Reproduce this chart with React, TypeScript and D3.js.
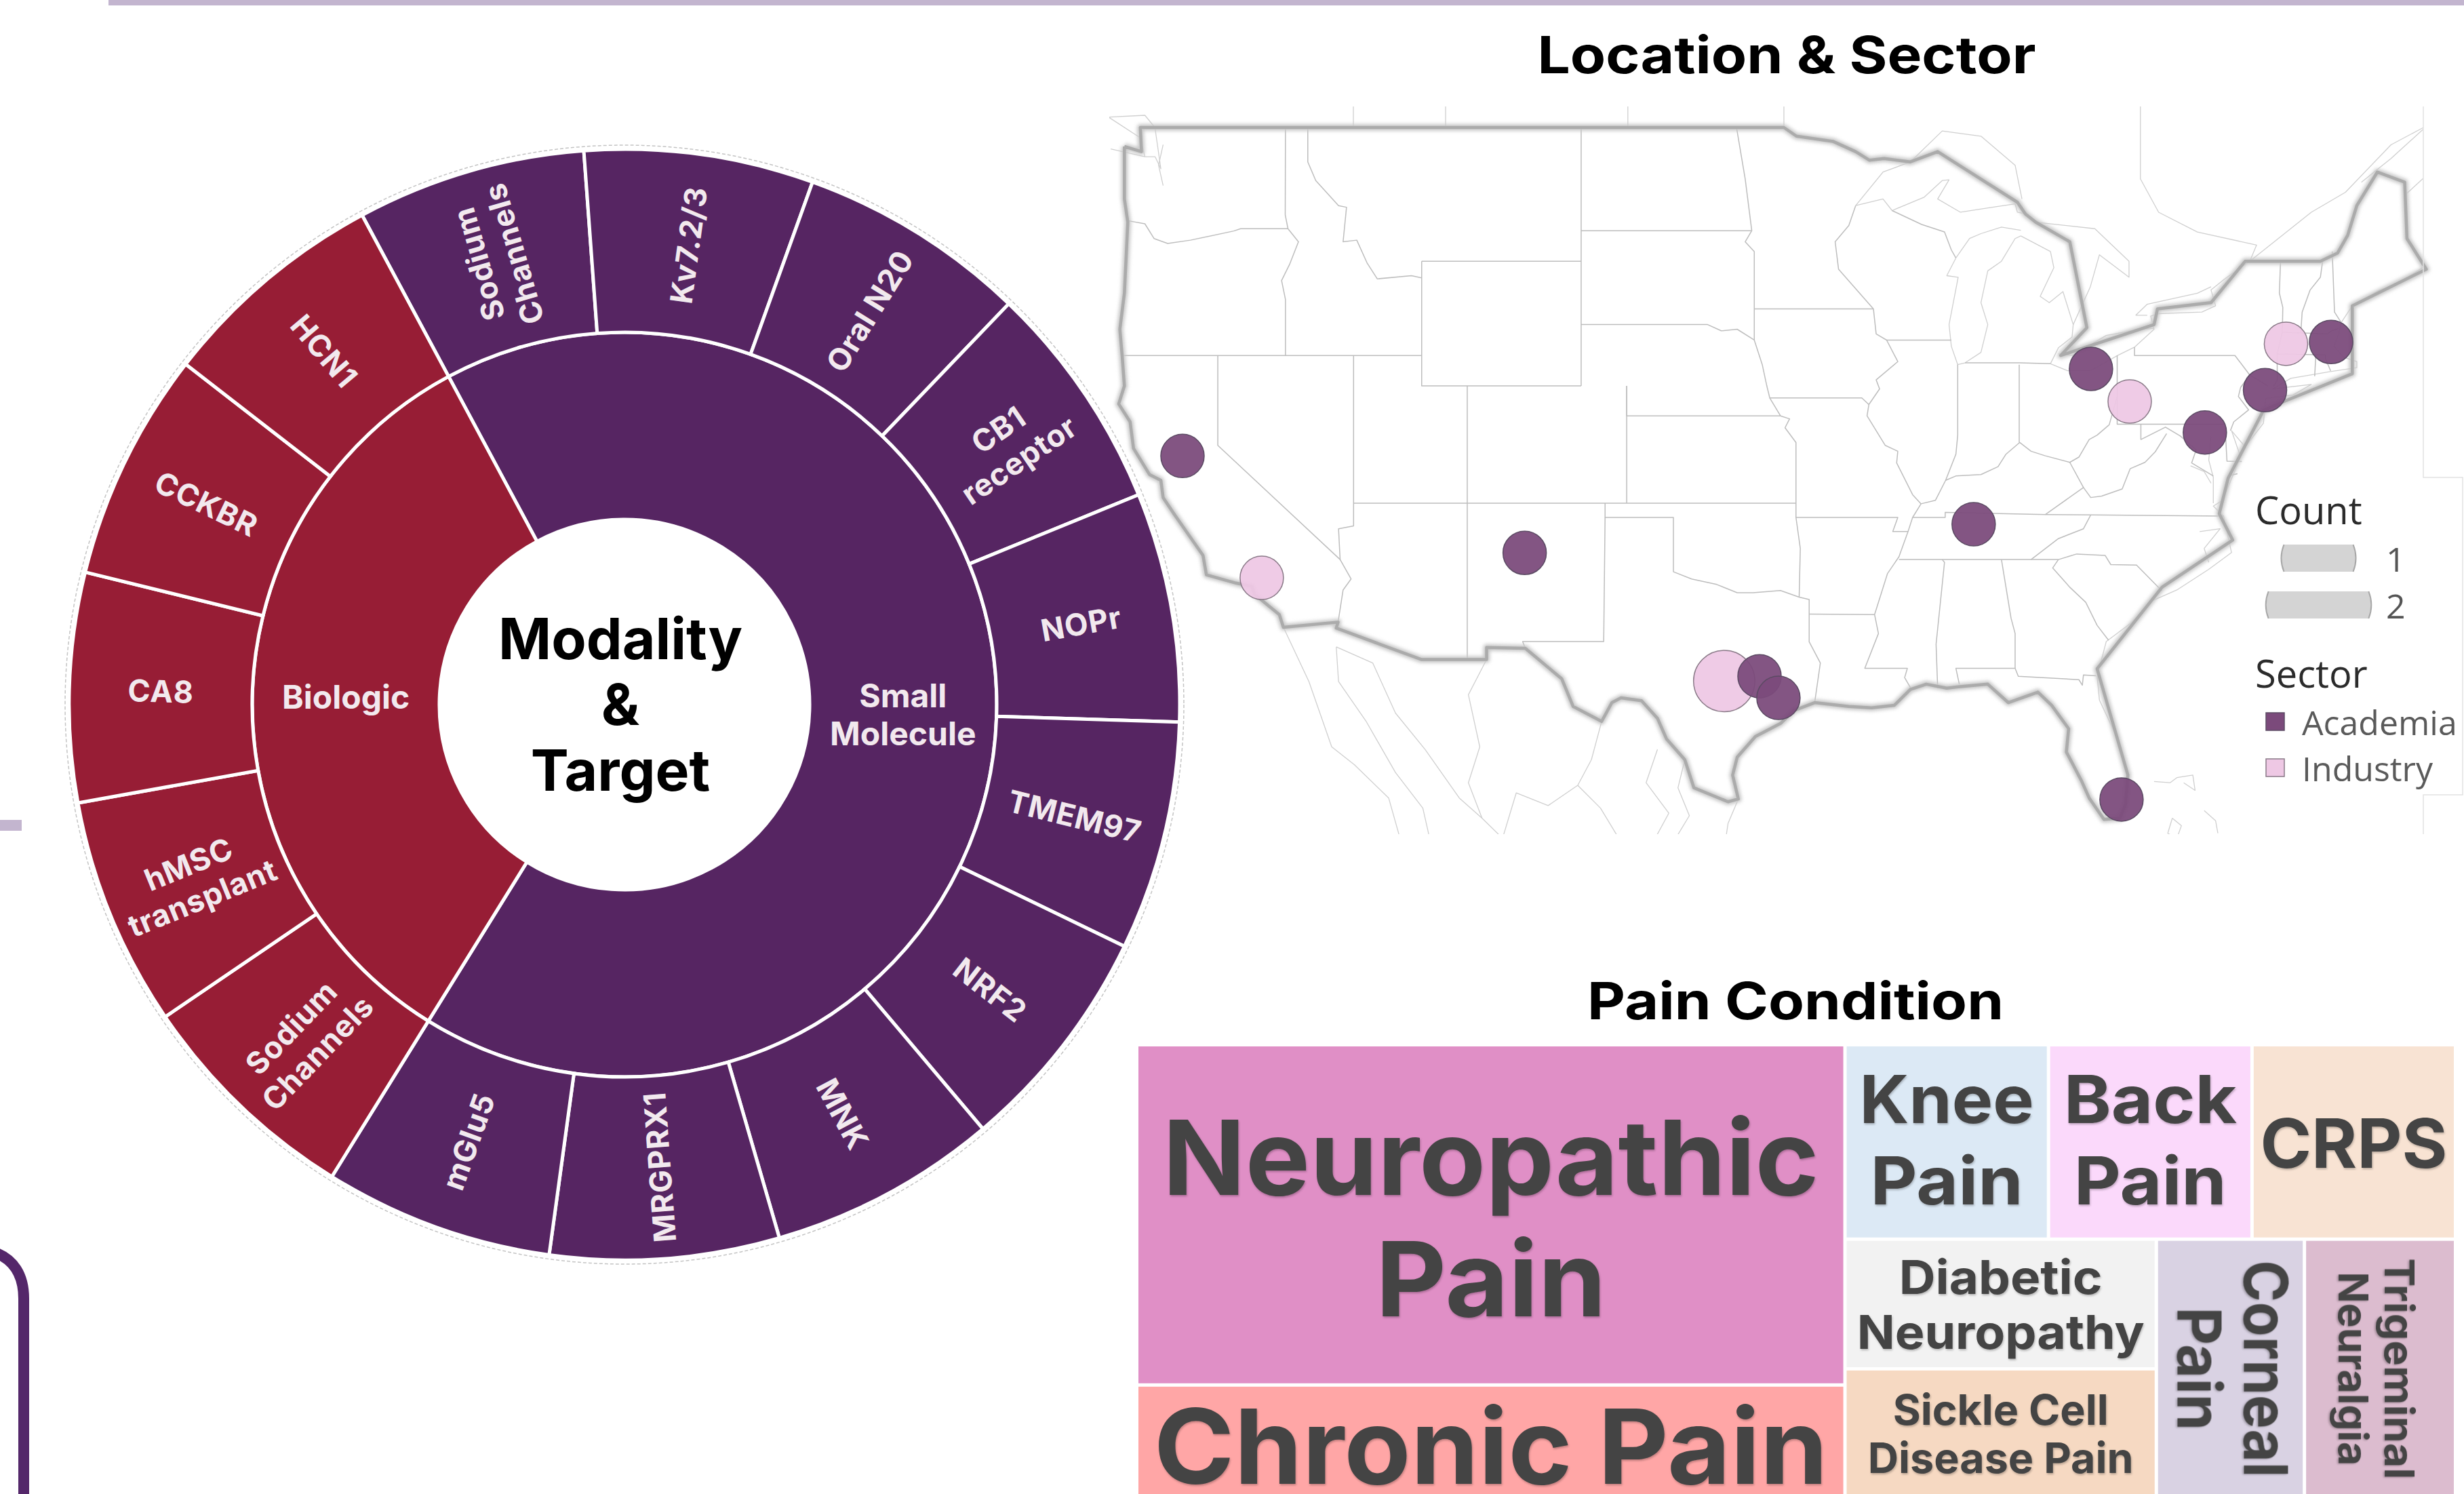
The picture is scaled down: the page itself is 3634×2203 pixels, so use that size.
import React from 'react';
import * as d3 from 'd3';

const WIDTH = 3634;
const HEIGHT = 2203;
const FONT = 'Inter, "Open Sans", sans-serif';
const LEGEND_FONT = '"Open Sans", "Noto Sans", sans-serif';

// ---- sunburst data
const smallMoleculeTargets = ['Sodium Channels', 'Kv7.2/3', 'Oral N20', 'CB1 receptor', 'NOPr', 'TMEM97', 'NRF2', 'MNK', 'MRGPRX1', 'mGlu5'];
const biologicTargets = ['Sodium Channels', 'hMSC transplant', 'CA8', 'CCKBR', 'HCN1'];
const wrappedTargets: Record<string, string[]> = {
  'Sodium Channels': ['Sodium', 'Channels'],
  'CB1 receptor': ['CB1', 'receptor'],
  'hMSC transplant': ['hMSC', 'transplant'],
};

// ---- map data, [lon, lat]
const sites = [
  { lon: -97.77, lat: 30.52, count: 2, sector: 'Industry' },
  { lon: -121.55, lat: 38.64, count: 1, sector: 'Academia' },
  { lon: -118.07, lat: 34.34, count: 1, sector: 'Industry' },
  { lon: -106.53, lat: 35.24, count: 1, sector: 'Academia' },
  { lon: -86.82, lat: 36.26, count: 1, sector: 'Academia' },
  { lon: -96.22, lat: 30.7, count: 1, sector: 'Academia' },
  { lon: -95.39, lat: 29.88, count: 1, sector: 'Academia' },
  { lon: -79.97, lat: 40.48, count: 1, sector: 'Industry' },
  { lon: -81.67, lat: 41.56, count: 1, sector: 'Academia' },
  { lon: -76.67, lat: 39.44, count: 1, sector: 'Academia' },
  { lon: -73.11, lat: 42.38, count: 1, sector: 'Industry' },
  { lon: -74.03, lat: 40.86, count: 1, sector: 'Academia' },
  { lon: -71.13, lat: 42.44, count: 1, sector: 'Academia' },
  { lon: -80.33, lat: 25.94, count: 1, sector: 'Academia' },
];
const countLegend = [1, 2];
const sectorLegend = ['Academia', 'Industry'];

// simplified national outline, the heavy grey line
const usOutline: [number, number][] = [
  [-124.1, 48.45], [-123.35, 48.3], [-123.4, 49], [-95.15, 49], [-94.6, 48.75], [-93, 48.6], [-92, 48.3], [-91.4, 48.05], [-90.75, 48.1], [-89.6, 48], [-88.4, 48.3], [-84.9, 46.8], [-84.55, 46.45], [-84.1, 46.2], [-82.6, 45.6], [-81.85, 42.9], [-83, 42], [-78.9, 43], [-78.75, 43.5], [-76.4, 43.7], [-74.9, 45], [-71.6, 45], [-70.85, 45.25], [-70.4, 45.8], [-70, 46.7], [-69.1, 47.7], [-67.9, 47.4], [-67.8, 45.7], [-66.95, 44.75],
  [-70.2, 43.6], [-70.2, 41.4], [-73.15, 40.5], [-74.1, 40.18], [-75.65, 37.87], [-76.04, 36.63], [-75.45, 35.7], [-78.55, 34], [-81.4, 30.98], [-80.05, 26.9], [-80.15, 25.75], [-80.4, 25.2], [-81.1, 25.15], [-81.75, 26], [-82.1, 26.7], [-82.75, 27.8], [-82.65, 28.7], [-83.4, 29.6], [-84, 30.1], [-85.3, 29.7], [-86.2, 30.4], [-87.5, 30.3], [-88, 30.25], [-88.9, 30.4], [-89.6, 30.2], [-90.3, 29.6], [-91.3, 29.5], [-92.3, 29.55], [-93.8, 29.7], [-94.7, 29.4], [-95.3, 28.9], [-96.4, 28.4], [-97.2, 27.6], [-97.4, 26.9], [-97.15, 25.96],
  [-97.6, 25.85], [-99.1, 26.4], [-99.5, 27.5], [-100.3, 28.3], [-100.7, 29.1], [-101.4, 29.77], [-102.3, 29.88], [-102.7, 29.7], [-103.15, 28.98], [-104.4, 29.55], [-104.9, 30.6], [-106.5, 31.75], [-108.2, 31.78], [-108.2, 31.33], [-111.07, 31.33], [-114.8, 32.5], [-114.72, 32.72], [-117.12, 32.53],
  [-117.3, 33], [-118.4, 33.75], [-118.5, 34.03], [-119.2, 34.15], [-120.5, 34.45], [-120.65, 35.15], [-121.9, 36.6], [-122.4, 37.2], [-122.5, 37.8], [-123, 38], [-123.7, 38.9], [-123.85, 39.8], [-124.35, 40.4], [-124.1, 41], [-124.2, 42], [-124.3, 42.85], [-124.1, 44], [-123.95, 46.2], [-124.1, 46.9], [-124.1, 48.45],
];

const stateBorders: [number, number][][] = [
  [[-124, 46.25], [-123.2, 46.15], [-122.8, 45.7], [-122.2, 45.55], [-121.2, 45.65], [-119.3, 45.93], [-119, 46], [-116.92, 46]],
  [[-117.03, 49], [-117.04, 46.42], [-116.92, 46], [-116.46, 45.6], [-116.85, 44.9], [-117.2, 44.4], [-117.03, 43.8], [-117.03, 42]],
  [[-124.2, 42], [-111.05, 42]],
  [[-120, 42], [-120, 39], [-114.63, 35], [-114.15, 34.3], [-114.5, 33.9], [-114.72, 32.72]],
  [[-114.04, 42], [-114.04, 36.2], [-114.7, 36.1], [-114.63, 35]],
  [[-116.05, 49], [-116.05, 48], [-115.7, 47.45], [-114.7, 46.7], [-114.35, 46.65], [-114.5, 45.6], [-113.9, 45.65], [-113.45, 44.95], [-113, 44.45], [-111.5, 44.55], [-111.05, 44.48]],
  [[-111.05, 45], [-104.05, 45]],
  [[-111.05, 45], [-111.05, 41], [-104.05, 41]],
  [[-109.05, 41], [-109.05, 31.33]],
  [[-114.04, 37], [-94.62, 37]],
  [[-104.05, 49], [-104.05, 41]],
  [[-104.05, 45.94], [-96.56, 45.94]],
  [[-104.05, 43], [-98.5, 43], [-97.9, 42.8], [-97.2, 42.85], [-96.45, 42.5]],
  [[-102.05, 41], [-102.05, 40], [-95.3, 40]],
  [[-102.05, 41], [-102.05, 37]],
  [[-103, 37], [-103, 36.5], [-100, 36.5], [-100, 34.56], [-99.2, 34.3], [-98.1, 34.1], [-97.2, 33.8], [-96.5, 33.8], [-95.3, 33.88], [-94.48, 33.64]],
  [[-103, 36.5], [-103.06, 32], [-106.62, 32], [-106.5, 31.75]],
  [[-94.62, 37], [-94.62, 36.5], [-94.43, 35.4], [-94.48, 33.64], [-94.04, 33.55], [-94.04, 31.99], [-93.55, 31.2], [-93.7, 30.3], [-93.8, 29.7]],
  [[-94.04, 33.02], [-91.17, 33]],
  [[-94.62, 37], [-94.62, 39.1], [-95.1, 39.6], [-94.9, 39.9], [-95.3, 40], [-95.77, 40.6]],
  [[-97.23, 49], [-96.85, 47.5], [-96.56, 45.94], [-96.85, 45.6], [-96.45, 45.3], [-96.45, 42.5], [-96.1, 41.7], [-95.9, 41], [-95.77, 40.6], [-91.73, 40.6], [-91.42, 40.38]],
  [[-96.45, 43.5], [-91.22, 43.5]],
  [[-92, 46.7], [-92.3, 46.1], [-92.9, 45.6], [-92.75, 44.75], [-91.22, 43.5], [-91.1, 42.7], [-90.64, 42.5], [-90.15, 41.8], [-91.1, 41.2], [-90.95, 40.9], [-91.42, 40.38], [-91.5, 40], [-90.7, 39], [-90.15, 38.8], [-90.2, 38.4], [-89.5, 37.3], [-89.13, 36.98], [-89.5, 36.5], [-89.7, 36], [-90.1, 35.1], [-90.6, 34.5], [-91.17, 33], [-91, 32.3], [-91.6, 31], [-89.73, 31], [-89.85, 30.65], [-89.55, 30.2]],
  [[-90.64, 42.5], [-87.8, 42.5]],
  [[-94.62, 36.5], [-90.15, 36.5], [-90.37, 36], [-89.7, 36]],
  [[-89.5, 36.5], [-88.07, 36.5], [-88.07, 36.68], [-83.68, 36.6], [-81.68, 36.59], [-75.87, 36.55]],
  [[-81.68, 36.59], [-82, 36.1], [-83.1, 35.75], [-84.3, 35]],
  [[-90.1, 35], [-83.1, 35]],
  [[-88.2, 35], [-88.1, 34.9], [-88.47, 31.9], [-88.4, 30.25]],
  [[-85.6, 35], [-85.18, 32.87], [-85, 32.3], [-85, 31]],
  [[-87.45, 30.4], [-87.6, 31], [-85, 31], [-84.86, 30.7], [-82.2, 30.57], [-82.05, 30.36], [-82, 30.75], [-81.45, 30.72]],
  [[-83.1, 35], [-83.35, 34.7], [-82.6, 34], [-81.9, 33.45], [-81.4, 32.6], [-80.9, 32.05]],
  [[-83.1, 35], [-82.3, 35.2], [-81.05, 35.15], [-80.8, 34.82], [-79.67, 34.8], [-78.55, 33.86]],
  [[-89.13, 36.98], [-88.5, 37.1], [-88.05, 37.8], [-87.6, 37.95], [-86.5, 38], [-85.75, 38.27], [-85.4, 38.7], [-84.8, 39.1], [-84.3, 38.8], [-83.7, 38.65], [-82.6, 38.42], [-82.2, 38.6], [-81.75, 39.2], [-81.4, 39.35], [-80.87, 39.7], [-80.52, 40.64]],
  [[-87.52, 41.7], [-87.52, 39.35], [-87.6, 38.7], [-88.05, 37.8]],
  [[-84.82, 41.7], [-84.82, 39.1]],
  [[-87.2, 41.76], [-84.82, 41.76], [-83.45, 41.73]],
  [[-80.52, 42], [-80.52, 39.72], [-75.79, 39.72]],
  [[-79.76, 42.27], [-79.76, 42], [-75.35, 42], [-74.7, 41.36], [-73.9, 41]],
  [[-74.7, 41.36], [-75.1, 40.95], [-75.2, 40.65], [-74.75, 40.2], [-75.4, 39.8], [-75.55, 39.5]],
  [[-75.79, 39.72], [-75.7, 38.46], [-75.05, 38.45]],
  [[-75.65, 37.95], [-75.24, 38.03]],
  [[-79.48, 39.72], [-79.48, 39.2], [-78.4, 39.62], [-77.75, 39.32], [-77.05, 38.85], [-77.25, 38.4], [-76.3, 37.95]],
  [[-82, 37.55], [-81.68, 37.2], [-81.2, 37.25], [-80.3, 37.5], [-79.95, 38.2], [-79.3, 38.42], [-78.85, 38.78], [-78.35, 39.4]],
  [[-83.68, 36.6], [-82, 37.55], [-82.6, 38.42]],
  [[-73.35, 45.01], [-73.4, 44], [-73.25, 43.55], [-73.27, 42.75], [-73.5, 42.05], [-73.49, 41.2], [-73.65, 41]],
  [[-71.5, 45.01], [-71.6, 44.5], [-72.05, 44.1], [-72.4, 43.4], [-72.46, 42.73]],
  [[-71.08, 45.3], [-70.98, 43.4], [-70.7, 43.08]],
  [[-73.27, 42.75], [-71.3, 42.7], [-71.1, 42.8], [-70.82, 42.87]],
  [[-73.5, 42.05], [-71.38, 42.02], [-71.38, 41.9], [-71.15, 41.5]],
  [[-71.8, 42.02], [-71.85, 41.32]],
  [[-90.4, 46.55], [-89.1, 46.13], [-88.1, 45.9], [-87.8, 45.35], [-87.6, 45.1]],
];

const shorelines: [number, number][][] = [
  [[-87.6, 45.1], [-88, 44.55], [-87.5, 44.5], [-87.9, 43], [-87.8, 42.3], [-87.52, 41.7], [-87.2, 41.76], [-86.5, 42.1], [-86.2, 43], [-86.5, 43.7], [-86.2, 44.7], [-85.6, 45], [-85, 45.7], [-84.75, 45.78]],
  [[-84.75, 45.95], [-85.6, 46.05], [-86.5, 45.85], [-87, 45.7], [-87.6, 45.1]],
  [[-92, 46.7], [-90.8, 46.9], [-90.4, 46.55], [-89, 46.95], [-88.2, 47.45], [-87.9, 47.47], [-88.4, 46.9], [-87.4, 46.5], [-86, 46.65], [-85, 46.75], [-84.9, 46.5], [-84.55, 46.45]],
  [[-84.75, 45.78], [-83.45, 45.3], [-83.3, 44.8], [-83.9, 43.9], [-83.5, 43.7], [-82.9, 44.05], [-82.45, 43], [-82.5, 42.6], [-83.1, 42.25], [-83.45, 41.73]],
  [[-83.45, 41.73], [-82.7, 41.5], [-81.7, 41.5], [-80.5, 42], [-79.76, 42.27], [-78.9, 42.85], [-79.05, 43.27], [-78.7, 43.35], [-76.8, 43.4], [-76.2, 43.6], [-76.4, 44.1], [-75.8, 44.45], [-74.7, 45]],
  [[-84.1, 46.2], [-81.5, 46], [-80, 45], [-80, 44.5], [-81.3, 45.2], [-81.7, 44.2], [-82.45, 43]],
  [[-83.1, 42.05], [-82.5, 42], [-81, 42.65], [-79.5, 42.85], [-78.9, 42.88]],
  [[-79.2, 43.3], [-79.7, 43.3], [-79.2, 43.65], [-77, 44], [-76.4, 44.2]],
  [[-92, 46.7], [-90.8, 47.7], [-89.6, 48], [-88.2, 48.9], [-86.5, 48.75], [-85, 47.9], [-84.7, 46.9]],
  // Atlantic coast detail inside the heavy outline
  [[-67, 44.85], [-68.2, 44.3], [-69, 44.1], [-70.2, 43.6], [-70.7, 43.05], [-70.8, 42.7], [-71, 42.3], [-70.6, 41.95], [-70, 41.8], [-70, 41.6], [-71.2, 41.47], [-72.9, 41.25], [-73.7, 40.9], [-72, 41.05], [-72.8, 40.7], [-74, 40.58], [-74.1, 39.75], [-74.9, 38.95], [-75.5, 39.5], [-75.1, 38.6], [-75.9, 37.1], [-76.3, 36.9], [-75.85, 36.55], [-75.5, 35.25], [-76.5, 34.65], [-77.9, 33.9], [-79, 33.5], [-79.9, 32.7], [-81, 32], [-81.4, 30.7], [-81.3, 29.8], [-80.55, 28.4], [-80.05, 26.9]],
  [[-76.4, 39.3], [-76.5, 38.5], [-76.3, 37.9], [-76.3, 37]],
  [[-77.3, 38.3], [-76.7, 38.1], [-76.4, 37.7]],
  [[-76.9, 36], [-76, 36.1], [-76.7, 35.4], [-76.5, 34.9]],
  [[-123.2, 48.15], [-123.4, 48.7], [-124.8, 49.3], [-123.2, 49.35], [-122.76, 49]],
  [[-124.7, 48.38], [-123.2, 48.15], [-122.75, 48.15], [-122.5, 47.8], [-122.76, 49]],
  [[-122.4, 47.3], [-122.6, 47.9], [-122.4, 48.5]],
  // Canada
  [[-114.05, 49.7], [-114.05, 49]],
  [[-110, 49.7], [-110, 49]],
  [[-102, 49.7], [-102, 49]],
  [[-95.15, 49.7], [-95.15, 49]],
  [[-79.5, 49.7], [-79.5, 47.5], [-78.7, 46.5], [-77, 45.9], [-74.4, 45.5], [-74.7, 45]],
  [[-74.7, 45], [-72, 46.5], [-70.5, 47.1], [-68.5, 48.5], [-66.5, 49.2]],
  [[-69.8, 47.4], [-68.5, 48.1], [-67, 49]],
  [[-67.8, 47.07], [-66.3, 48]],
  // Mexico
  [[-114.8, 31.8], [-113.2, 31.2], [-112.2, 29.3], [-110.9, 27.9], [-109.4, 26], [-108.4, 25.2], [-107.5, 24.4]],
  [[-114.8, 31.8], [-114.7, 30.5], [-113.5, 29], [-112.2, 27], [-111, 25.6], [-110.7, 24.4]],
  [[-117.12, 32.53], [-116, 30.5], [-115, 28], [-114, 27.3], [-112.5, 26], [-112, 24.4]],
  [[-97.15, 25.96], [-97.6, 25], [-97.7, 24.4]],
  [[-108.2, 31.33], [-109, 30], [-108.5, 28], [-109, 26.6], [-108.4, 25.2]],
  [[-103.15, 28.98], [-103.6, 27.5], [-104.2, 26.5], [-105.5, 25.7], [-106.9, 26.2], [-107.5, 24.4]],
  [[-100.7, 27.9], [-101.2, 26.6], [-100.2, 25.4], [-100.8, 24.4]],
  [[-99.5, 27.5], [-99.8, 26.4], [-99.3, 25.3], [-99.9, 24.4]],
  [[-104.2, 26.5], [-103.2, 25.6], [-102.4, 24.4]],
  // Bahamas
  [[-78.9, 26.65], [-78.2, 26.6], [-77.9, 26.8], [-77.2, 26.9], [-77.1, 26.3], [-77.6, 26.6]],
  [[-78.1, 25.2], [-77.7, 24.9], [-77.9, 24.4], [-78.3, 24.6], [-78.1, 25.2]],
  [[-76.7, 25.5], [-76.2, 25.1], [-76.1, 24.6]],
];

// ---- treemap data
const painConditions = {
  name: 'Pain Condition',
  children: [
    { name: 'left', children: [{ name: 'Neuropathic Pain', value: 6.09 }, { name: 'Chronic Pain', value: 2.03 }] },
    {
      name: 'right',
      children: [
        { name: 'topRow', children: [{ name: 'Knee Pain', value: 1 }, { name: 'Back Pain', value: 1 }, { name: 'CRPS', value: 1 }] },
        {
          name: 'bottomRow',
          children: [
            { name: 'stack', children: [{ name: 'Diabetic Neuropathy', value: 1.02 }, { name: 'Sickle Cell Disease Pain', value: 1.02 }] },
            { name: 'Corneal Pain', value: 0.97 },
            { name: 'Trigeminal Neuralgia', value: 0.99 },
          ],
        },
      ],
    },
  ],
};

// per condition label: lines, font size, line gap, offset of first baseline from cell centre, line lengths
const conditionLabels: Record<string, any> = {
  'Neuropathic Pain': { fill: '#e08fc6', lines: ['Neuropathic', 'Pain'], size: 153, gap: 179, first: -29, len: [968, 340] },
  'Chronic Pain': { fill: '#ffa6a6', lines: ['Chronic Pain'], size: 153, gap: 0, first: 62, len: [994] },
  'Knee Pain': { fill: '#dce9f5', lines: ['Knee', 'Pain'], size: 97, gap: 120, first: -28, len: [257, 225] },
  'Back Pain': { fill: '#fbd9fb', lines: ['Back', 'Pain'], size: 97, gap: 120, first: -28, len: [255, 225] },
  CRPS: { fill: '#f8e3d3', lines: ['CRPS'], size: 100, gap: 0, first: 38, len: [276] },
  'Diabetic Neuropathy': { fill: '#f2f2f2', lines: ['Diabetic', 'Neuropathy'], size: 69, gap: 81, first: -15, len: [300, 424] },
  'Sickle Cell Disease Pain': { fill: '#f6d9c2', lines: ['Sickle Cell', 'Disease Pain'], size: 62, gap: 71, first: -13, len: [318, 392] },
  'Corneal Pain': { fill: '#d9d2e3', lines: ['Corneal', 'Pain'], size: 90, gap: 98, first: -20, len: [320, 182], vertical: true },
  'Trigeminal Neuralgia': { fill: '#dcbccf', lines: ['Trigeminal', 'Neuralgia'], size: 60, gap: 68, first: -7, len: [326, 286], vertical: true },
};

// ---- layouts
const TAU = 2 * Math.PI;
const cx = 921;
const cy = 1039;
const startOffset = (-28.2 * Math.PI) / 180;

const sunRoot = d3
  .partition<any>()
  .size([TAU, 1])(
    d3
      .hierarchy<any>({
        name: 'root',
        children: [
          { name: 'Small Molecule', children: smallMoleculeTargets.map((name) => ({ name, value: 1 })) },
          { name: 'Biologic', children: biologicTargets.map((name) => ({ name, value: 1 })) },
        ],
      })
      .sum((d) => d.value ?? 0)
  );
const radius = d3.scaleLinear().domain([1 / 3, 2 / 3, 1]).range([273, 549, 819]);
const arcPath = d3
  .arc<any>()
  .startAngle((d) => d.x0 + startOffset)
  .endAngle((d) => d.x1 + startOffset)
  .innerRadius((d) => radius(d.y0))
  .outerRadius((d) => radius(d.y1));
const modalityColor = d3.scaleOrdinal<string>().domain(['Small Molecule', 'Biologic']).range(['#562562', '#971d35']);

const projection = d3.geoMercator().scale(1925).center([-95, 49]).translate([2636, 188]);
const mapLine = d3
  .line<[number, number]>()
  .x((p) => projection(p)![0])
  .y((p) => projection(p)![1]);
const sizeScale = d3.scaleSqrt().domain([0, 2]).range([0, 45.25]);
const sectorColor = d3.scaleOrdinal<string>().domain(sectorLegend).range(['#7b4a7b', '#eec8e4']);
const sectorStroke = d3.scaleOrdinal<string>().domain(sectorLegend).range(['#5b4a63', '#8a7a88']);

const treeRoot = d3
  .treemap<any>()
  .tile(d3.treemapSliceDice)
  .size([1940, 664])
  .paddingInner(5)(d3.hierarchy<any>(painConditions).sum((d) => d.value ?? 0));

function Sunburst() {
  const modalities = sunRoot.descendants().filter((d) => d.depth === 1);
  const targets = sunRoot.descendants().filter((d) => d.depth === 2);
  return (
    <g transform={`translate(${cx},${cy})`}>
      <circle r={825} fill="none" stroke="#c4c4c4" strokeWidth={1.5} strokeDasharray="5 3" />
      <circle r={277} fill="none" stroke="#ccc" strokeWidth={1.5} strokeDasharray="5 3" />
      {sunRoot.descendants().filter((d) => d.depth > 0).map((d, i) => (
        <path
          key={i}
          d={arcPath(d) as string}
          fill={modalityColor(d.depth === 1 ? d.data.name : d.parent!.data.name)}
          stroke="#fff"
          strokeWidth={5}
        />
      ))}
      {modalities.map((d) => {
        const [x, y] = arcPath.centroid(d);
        const lines = d.data.name === 'Small Molecule' ? ['Small', 'Molecule'] : [d.data.name];
        return (
          <text key={d.data.name} fontFamily={FONT} fontWeight={700} fontSize={48} fill="#f2e9ee" textAnchor="middle">
            {lines.map((line, i) => (
              <tspan key={line} x={x} y={y + 19 + (i - (lines.length - 1) / 2) * 56}>
                {line}
              </tspan>
            ))}
          </text>
        );
      })}
      {targets.map((d, i) => {
        const mid = ((d.x0 + d.x1) / 2 + startOffset) * (180 / Math.PI);
        const deg = (mid + 360) % 360;
        const flip = deg > 170 && deg < 330;
        const r = radius((d.y0 + d.y1) / 2);
        const lines = wrappedTargets[d.data.name] ?? [d.data.name];
        return (
          <g key={i} transform={`rotate(${mid - 90}) translate(${r},0) rotate(${flip ? 180 : 0})`}>
            <text fontFamily={FONT} fontWeight={700} fontSize={45} letterSpacing={0.8} fill="#f2e9ee" textAnchor="middle">
              {lines.map((line, j) => (
                <tspan key={line} x={0} y={18 + (j - (lines.length - 1) / 2) * 54}>
                  {line}
                </tspan>
              ))}
            </text>
          </g>
        );
      })}
      <text fontFamily={FONT} fontWeight={700} fontSize={84} textAnchor="middle" fill="#000">
        {['Modality', '&', 'Target'].map((line, i) => (
          <tspan key={line} x={-6} y={-67 + i * 97}>
            {line}
          </tspan>
        ))}
      </text>
    </g>
  );
}

function SiteMap() {
  return (
    <g>
      <defs>
        <clipPath id="map-frame">
          <rect x={1636} y={157} width={1938} height={1073} />
        </clipPath>
        <filter id="soft" x="-5%" y="-5%" width="110%" height="110%">
          <feGaussianBlur stdDeviation={2.6} />
        </filter>
      </defs>
      <g clipPath="url(#map-frame)" fill="none" strokeLinejoin="round">
        {shorelines.map((line, i) => (
          <path key={i} d={mapLine(line) as string} stroke="#cfcfcf" strokeWidth={1.3} />
        ))}
        {stateBorders.map((line, i) => (
          <path key={i} d={mapLine(line) as string} stroke="#bdbdbd" strokeWidth={1.5} />
        ))}
      </g>
      <path d={mapLine(usOutline) as string} fill="none" stroke="#c9c9c9" strokeWidth={10} strokeLinejoin="round" filter="url(#soft)" />
      <path d={mapLine(usOutline) as string} fill="none" stroke="#ababab" strokeWidth={4.5} strokeLinejoin="round" />
      {sites.map((d, i) => {
        const [x, y] = projection([d.lon, d.lat])!;
        return (
          <circle
            key={i}
            cx={x}
            cy={y}
            r={sizeScale(d.count)}
            fill={sectorColor(d.sector)}
            fillOpacity={0.94}
            stroke={sectorStroke(d.sector)}
            strokeWidth={1.5}
          />
        );
      })}
      <g fill="none" stroke="#e2e2e2" strokeWidth={1.5}>
        <path d="M3574 157V704H3632V1172H3574V1230" />
      </g>
      <g fontFamily={LEGEND_FONT}>
        <text x={3326} y={773} fontSize={56} fill="#2b2b2b">Count</text>
        {countLegend.map((c, i) => {
          const half = sizeScale(c) * 1.72;
          const mid = 3419.5;
          const top = 803 + i * 69;
          const bottom = top + 40;
          return (
            <g key={c}>
              <path
                d={`M${mid - half + 4} ${top}Q${mid - half - 4} ${(top + bottom) / 2} ${mid - half + 4} ${bottom}L${mid + half - 4} ${bottom}Q${mid + half + 4} ${(top + bottom) / 2} ${mid + half - 4} ${top}Z`}
                fill="#d4d4d4"
              />
              <path
                d={`M${mid - half + 4} ${top}Q${mid - half - 4} ${(top + bottom) / 2} ${mid - half + 4} ${bottom}M${mid + half - 4} ${bottom}Q${mid + half + 4} ${(top + bottom) / 2} ${mid + half - 4} ${top}`}
                fill="none"
                stroke="#a8a8a8"
                strokeWidth={2}
              />
              <text x={3519} y={bottom} fontSize={50} fill="#555">{c}</text>
            </g>
          );
        })}
        <text x={3326} y={1014} fontSize={56} fill="#2b2b2b">Sector</text>
        {sectorLegend.map((s, i) => (
          <g key={s}>
            <rect x={3342} y={1051 + i * 68} width={27} height={26} fill={sectorColor(s)} stroke={sectorStroke(s)} strokeWidth={1.5} />
            <text x={3395} y={1084 + i * 68} fontSize={50} fill="#5a5a5a">{s}</text>
          </g>
        ))}
      </g>
    </g>
  );
}

function Treemap() {
  return (
    <g transform="translate(1679,1543)">
      {treeRoot.leaves().map((d) => {
        const label = conditionLabels[d.data.name];
        const mx = (d.x0 + d.x1) / 2;
        const my = (d.y0 + d.y1) / 2;
        return (
          <g key={d.data.name}>
            <rect x={d.x0} y={d.y0} width={d.x1 - d.x0} height={d.y1 - d.y0} fill={label.fill} />
            <g
              transform={label.vertical ? `translate(${mx},${my}) rotate(90)` : `translate(${mx},${my})`}
              fontFamily={FONT}
              fontWeight={700}
              fill="#444"
              textAnchor="middle"
              style={{ filter: 'drop-shadow(1px 2px 1.5px rgba(0,0,0,0.25))' }}
            >
              {label.lines.map((line: string, i: number) => (
                <text
                  key={line}
                  x={0}
                  y={label.first + i * label.gap}
                  fontSize={label.size}
                  textLength={label.len[i]}
                  lengthAdjust="spacingAndGlyphs"
                >
                  {line}
                </text>
              ))}
            </g>
          </g>
        );
      })}
    </g>
  );
}

export default function App() {
  return (
    <svg width={WIDTH} height={HEIGHT} viewBox={`0 0 ${WIDTH} ${HEIGHT}`} style={{ position: 'absolute', left: 0, top: 0, background: '#fff' }}>
      {/* page furniture */}
      <rect x={160} y={0} width={WIDTH - 160} height={8} fill="#c3b5cf" />
      <rect x={0} y={1209} width={32} height={16} fill="#c3b5cf" />
      <path d="M-10 1846C20 1856 35 1880 35 1915V2210" fill="none" stroke="#54276a" strokeWidth={16} />

      <Sunburst />

      <text x={2635} y={108} fontFamily={FONT} fontWeight={700} fontSize={76} fill="#000" textAnchor="middle" textLength={735} lengthAdjust="spacingAndGlyphs">
        Location &amp; Sector
      </text>
      <SiteMap />

      <text x={2648} y={1503} fontFamily={FONT} fontWeight={700} fontSize={76} fill="#000" textAnchor="middle" textLength={614} lengthAdjust="spacingAndGlyphs">
        Pain Condition
      </text>
      <Treemap />
    </svg>
  );
}
